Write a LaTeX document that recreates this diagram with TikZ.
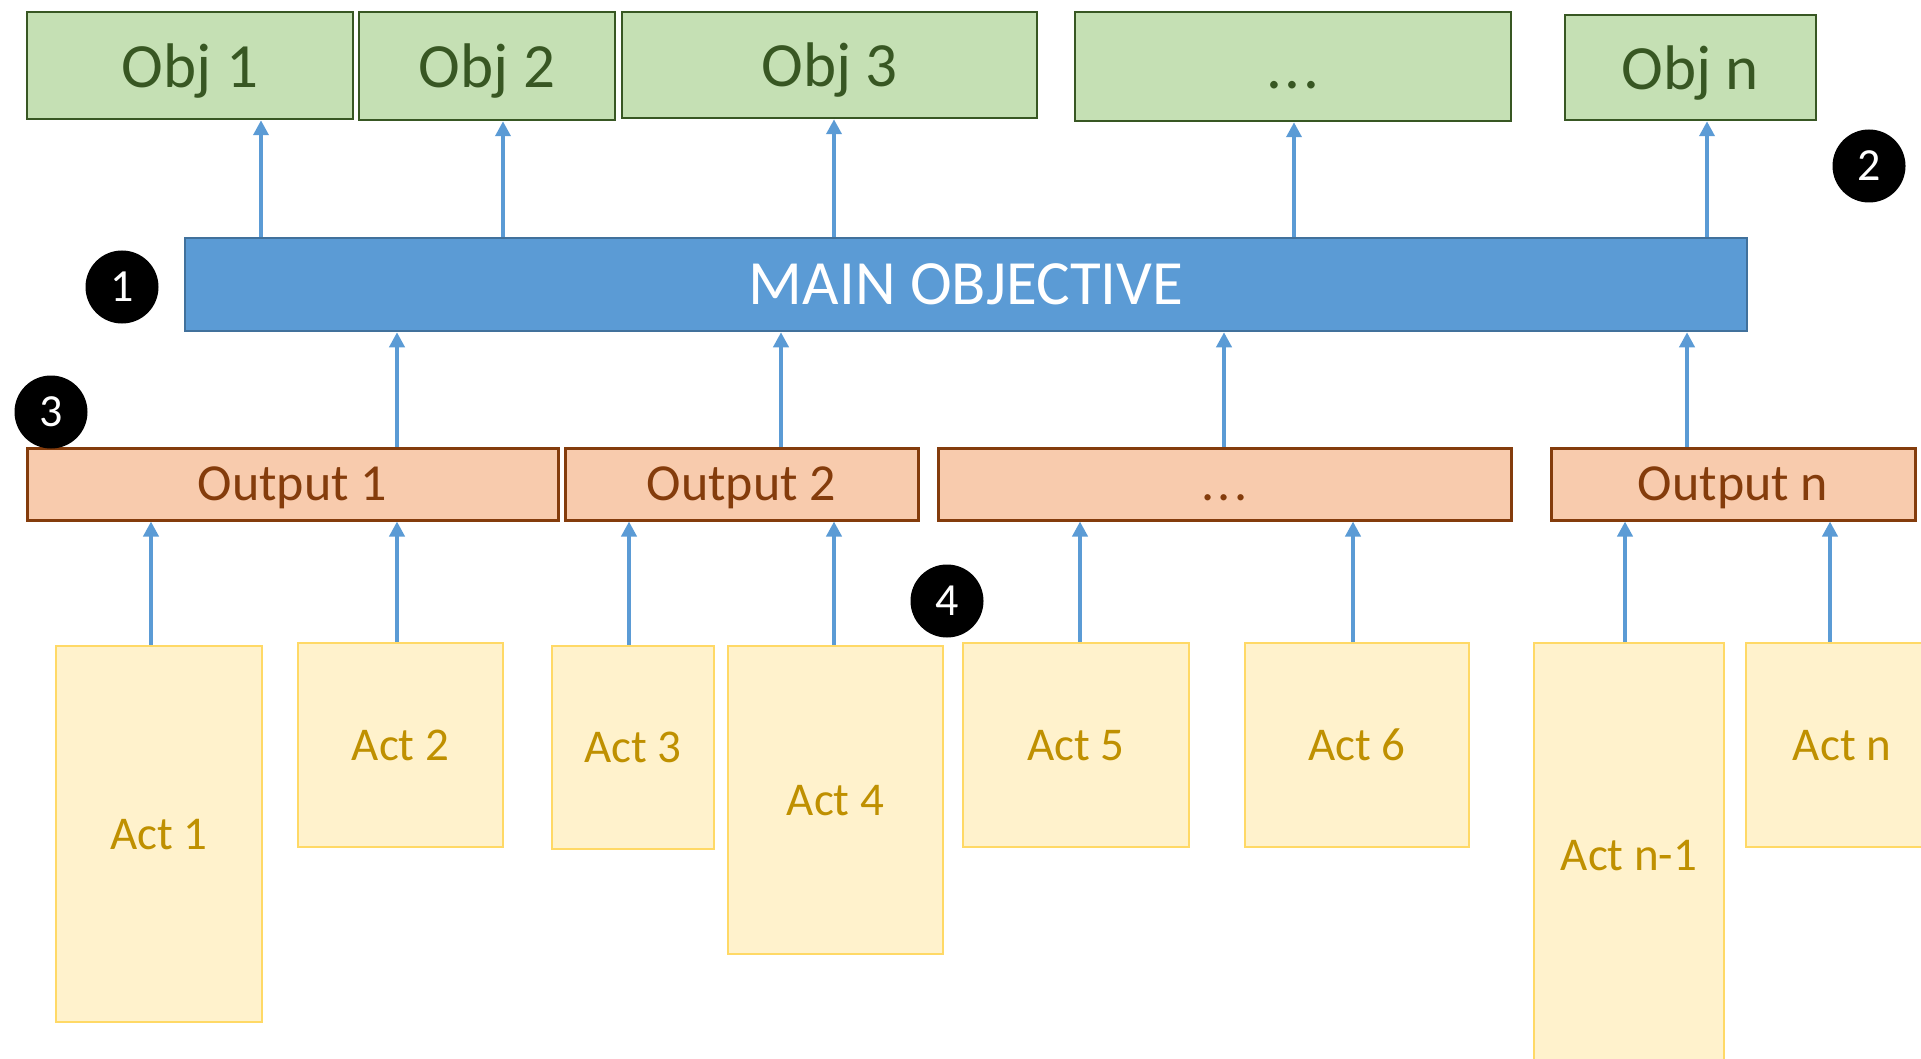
\documentclass[tikz,border=0pt]{standalone}
\usepackage{fontspec}
\setmainfont{Carlito}
\usetikzlibrary{arrows.meta}

\definecolor{objfill}{HTML}{C5E0B4}
\definecolor{objline}{HTML}{385723}
\definecolor{mainfill}{HTML}{5B9BD5}
\definecolor{mainline}{HTML}{41719C}
\definecolor{outfill}{HTML}{F8CBAD}
\definecolor{outline}{HTML}{843C0C}
\definecolor{actfill}{HTML}{FFF2CC}
\definecolor{actline}{HTML}{FFD966}
\definecolor{acttext}{HTML}{BF9000}
\definecolor{arrowblue}{HTML}{5B9BD5}

\newcommand\gapdots{.\kern3pt.\kern3pt.}

\tikzset{
  box/.style={rectangle, draw, inner sep=0pt, line width=2.5pt},
  objbox/.style={box, fill=objfill, draw=objline, text=objline, text depth=0pt,
    font=\fontsize{63}{70}\selectfont},
  mainbox/.style={box, fill=mainfill, draw=mainline, text=white,
    font=\fontsize{63}{70}\selectfont},
  outbox/.style={box, fill=outfill, draw=outline, text=outline, text depth=0pt,
    line width=3pt, font=\fontsize{52}{60}\selectfont},
  actbox/.style={box, fill=actfill, draw=actline, text=acttext, text depth=0pt,
    font=\fontsize{47}{56}\selectfont},
  marker/.style={circle, fill=black, minimum size=73pt, inner sep=0pt,
    text=white, font=\fontsize{46}{50}\selectfont},
  arr/.style={draw=arrowblue, line width=4pt, -{Triangle[width=15pt,length=15pt]}},
}

\begin{document}
\begin{tikzpicture}[x=1pt, y=-1pt]
\useasboundingbox (0,0) rectangle (1921,1059);
\clip (0,0) rectangle (1921,1059);

% objectives
\node[objbox, minimum width=326pt, minimum height=107pt] (obj1) at (190,65.5) {Obj 1};
\node[objbox, minimum width=256pt, minimum height=108pt] (obj2) at (487,66) {Obj 2};
\node[objbox, minimum width=415pt, minimum height=106pt] (obj3) at (829.5,65) {Obj 3};
\node[objbox, minimum width=436pt, minimum height=109pt] (objdots) at (1293,66.5) {\vphantom{Obj}\gapdots};
\node[objbox, minimum width=251pt, minimum height=105pt] (objn) at (1690.5,67.5) {Obj n};

% main objective
\node[mainbox, minimum width=1562pt, minimum height=93pt] (main) at (966,284.5) {MAIN OBJECTIVE};

% outputs
\node[outbox, minimum width=531pt, minimum height=72pt] (out1) at (292.5,484) {Output 1};
\node[outbox, minimum width=353pt, minimum height=72pt] (out2) at (741.5,484) {Output 2};
\node[outbox, minimum width=573pt, minimum height=72pt] (outdots) at (1224.5,484) {\vphantom{Output}\gapdots};
\node[outbox, minimum width=364pt, minimum height=72pt] (outn) at (1733,484) {Output n};

% activities
\node[actbox, minimum width=206pt, minimum height=376pt] (act1) at (159,834) {Act 1};
\node[actbox, minimum width=205pt, minimum height=204pt] (act2) at (400.5,745) {Act 2};
\node[actbox, minimum width=162pt, minimum height=203pt] (act3) at (633,747.5) {Act 3};
\node[actbox, minimum width=215pt, minimum height=308pt] (act4) at (835.5,800) {Act 4};
\node[actbox, minimum width=226pt, minimum height=204pt] (act5) at (1076,745) {Act 5};
\node[actbox, minimum width=224pt, minimum height=204pt] (act6) at (1357,745) {Act 6};
\node[actbox, minimum width=190pt, minimum height=424pt] (actn1) at (1629,855) {Act n-1};
\node[actbox, minimum width=192pt, minimum height=204pt] (actn) at (1842,745) {Act n};

% main objective -> objectives
\draw[arr] ([xshift=-705pt]main.north) -- ([xshift=-705pt]main.north |- obj1.south);
\draw[arr] ([xshift=-463pt]main.north) -- ([xshift=-463pt]main.north |- obj2.south);
\draw[arr] ([xshift=-132pt]main.north) -- ([xshift=-132pt]main.north |- obj3.south);
\draw[arr] ([xshift=328pt]main.north) -- ([xshift=328pt]main.north |- objdots.south);
\draw[arr] ([xshift=741pt]main.north) -- ([xshift=741pt]main.north |- objn.south);

% outputs -> main objective
\draw[arr] ([xshift=104.5pt]out1.north) -- ([xshift=104.5pt]out1.north |- main.south);
\draw[arr] ([xshift=39.5pt]out2.north) -- ([xshift=39.5pt]out2.north |- main.south);
\draw[arr] ([xshift=-0.5pt]outdots.north) -- ([xshift=-0.5pt]outdots.north |- main.south);
\draw[arr] ([xshift=-46pt]outn.north) -- ([xshift=-46pt]outn.north |- main.south);

% activities -> outputs
\draw[arr] ([xshift=-8pt]act1.north) -- ([xshift=-8pt]act1.north |- out1.south);
\draw[arr] ([xshift=-3.5pt]act2.north) -- ([xshift=-3.5pt]act2.north |- out1.south);
\draw[arr] ([xshift=-4pt]act3.north) -- ([xshift=-4pt]act3.north |- out2.south);
\draw[arr] ([xshift=-1.5pt]act4.north) -- ([xshift=-1.5pt]act4.north |- out2.south);
\draw[arr] ([xshift=4pt]act5.north) -- ([xshift=4pt]act5.north |- outdots.south);
\draw[arr] ([xshift=-4pt]act6.north) -- ([xshift=-4pt]act6.north |- outdots.south);
\draw[arr] ([xshift=-4pt]actn1.north) -- ([xshift=-4pt]actn1.north |- outn.south);
\draw[arr] ([xshift=-12pt]actn.north) -- ([xshift=-12pt]actn.north |- outn.south);

% numbered markers
\node[marker] (m1) at (122,287) {1};
\node[marker] (m2) at (1869,166) {2};
\node[marker] (m3) at (51,412) {3};
\node[marker] (m4) at (947,601) {4};
\end{tikzpicture}
\end{document}
